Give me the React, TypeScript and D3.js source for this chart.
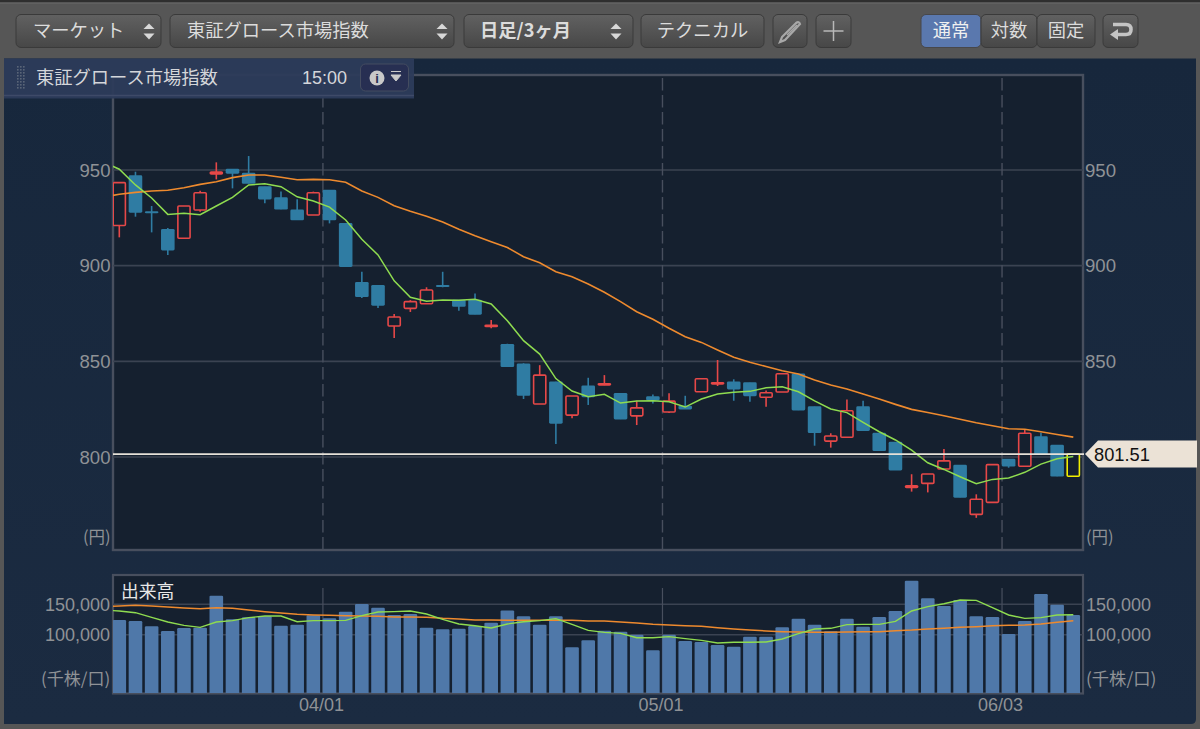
import React from "react";
import * as d3 from "d3";

// 東証グロース市場指数, daily candles
const opens = [921, 947, 928.2, 919, 914.3, 929.1, 948, 950.4, 948.3, 941.3, 935.5, 929.1, 926.5, 939.5, 922.1, 891.3, 889.7, 868.5, 877.7, 880.1, 889.7, 882, 882, 868.2, 858.9, 848.7, 827.7, 839.3, 821.9, 837.2, 837.7, 833.3, 821.5, 831.5, 823.5, 826.6, 834.1, 838.2, 839.3, 838.8, 831.2, 834, 843.4, 826.3, 808.3, 810.3, 826.3, 812.4, 807.7, 784.1, 786.2, 793.7, 795.8, 770, 776.3, 798.9, 795.2, 810.6, 806.2, 789.9];
const closes = [943.4, 927.9, 927.6, 908.2, 931.2, 938.1, 948.9, 948.3, 943, 934.8, 929.5, 923.9, 938.1, 923.9, 899.5, 883.8, 879.3, 873.2, 881.2, 887.3, 889, 878.7, 874.6, 868.8, 847.2, 832.2, 842.8, 817.6, 831.9, 831.5, 838.3, 819.8, 825.7, 829.8, 829.2, 825.1, 840.9, 838.8, 835.5, 832, 833.6, 843.5, 824.5, 812.7, 811, 824.2, 813.8, 803.3, 793.2, 785, 791.1, 798, 778.9, 777.9, 796, 795.2, 812.4, 801.5, 790, 801.51];
const highs = [943.4, 949.1, 931.2, 919.7, 931.2, 939.2, 954, 950.4, 957.3, 941.3, 938.7, 934.7, 938.7, 939.5, 922.1, 896.8, 889.7, 874.7, 882, 888.7, 896.8, 882, 885.5, 871.6, 859.2, 849, 848, 839.3, 831.9, 841.4, 842.8, 833.3, 829.4, 832.7, 833.3, 832, 841.3, 850.7, 840.6, 838.8, 834.7, 843.9, 843.4, 826.3, 812.4, 830.1, 829.4, 812.4, 807.7, 791, 791.1, 804.2, 795.8, 780.5, 796, 798.9, 814.1, 812.7, 806.2, 801.51];
const lows = [914.8, 925.6, 917.4, 905.6, 914.3, 928.2, 945.1, 940.4, 943, 932.6, 929.5, 923.9, 926.5, 922.1, 899.5, 883.1, 877.9, 862.2, 875.8, 880.1, 888.7, 876.5, 874.6, 867.3, 847.2, 830.3, 827.7, 806.8, 820.2, 827.2, 837.5, 819.8, 816.7, 828, 823, 825.1, 834.1, 837.1, 829.4, 828.9, 826.3, 834, 824.5, 805.9, 804.9, 810.3, 813.8, 803.3, 793.2, 781.9, 781.5, 793.7, 778.9, 768.2, 776.3, 794.4, 795.2, 801.5, 790, 789.9];

// moving averages, first value is the day before the visible window
const priceMaShort = [954.2, 950.4, 942.2, 935.4, 926.8, 927.4, 926.6, 931.2, 935.7, 942.2, 942.8, 941.3, 936, 933.8, 930.6, 923.9, 913.8, 905.6, 892.1, 883.5, 881.4, 882, 881.9, 882.4, 880, 871.2, 860.8, 853.8, 841, 834.5, 831.5, 832.8, 828.2, 829.3, 829.4, 828.9, 826.1, 830.3, 832.9, 833.9, 834.3, 836.2, 836.7, 834.1, 829.3, 825.1, 823.2, 818.1, 813.2, 808.9, 803.6, 797, 793.5, 789.7, 786, 788.3, 789, 792, 796.3, 799.1, 800.3];
const priceMaLong = [935.9, 937.3, 938.3, 939, 939.4, 940.7, 942.5, 943.9, 946, 947.4, 947.4, 946.2, 944.9, 945.1, 944.9, 943.6, 939, 935.7, 931.3, 928.4, 925.8, 922.8, 919, 915.6, 912.5, 909.5, 904.7, 901.5, 896.8, 894.2, 890.4, 886.1, 881.2, 875.9, 872, 867.3, 862.9, 859.9, 855.9, 852.1, 849.5, 847.3, 845.1, 843.4, 840.2, 837.6, 835.5, 832.9, 830.3, 827.5, 824.9, 823.3, 821.6, 819.7, 817.9, 816.3, 814.8, 814.5, 813.2, 811.8, 810.4];

const volumes = [124200, 122500, 113800, 106100, 111000, 111600, 164200, 125300, 128500, 130700, 114800, 116500, 131800, 126900, 137900, 150500, 144500, 132400, 134000, 111600, 108800, 109900, 114300, 119800, 140000, 130200, 116500, 130200, 79200, 90700, 106600, 105000, 100000, 74300, 100000, 89600, 88000, 83000, 80300, 96800, 96800, 112100, 126400, 116500, 105500, 126400, 113200, 129100, 139000, 188900, 159800, 147200, 157100, 130200, 129100, 101100, 122500, 166900, 149400, 132400];
const volumeMaShort = [140600, 139000, 136200, 128600, 120900, 115400, 112100, 120900, 123100, 128000, 130700, 130700, 121400, 123100, 123100, 123600, 131300, 137300, 137900, 139000, 134000, 125300, 117600, 114800, 111000, 117600, 121400, 123100, 126400, 117000, 107200, 103900, 102200, 95100, 95100, 96800, 93500, 90700, 86300, 87500, 87500, 88000, 92900, 101700, 109400, 110500, 116500, 117000, 117000, 122000, 139000, 146100, 151000, 157100, 156500, 144500, 132400, 126900, 128000, 132400, 132900];
const volumeMaLong = [146100, 147200, 148300, 147200, 145500, 143900, 142800, 144500, 143400, 140600, 137900, 135700, 133500, 132400, 131800, 131300, 130700, 130200, 129100, 129100, 128600, 126900, 125800, 124200, 124200, 123600, 123600, 123600, 123600, 123600, 122500, 122500, 120900, 119200, 117000, 115900, 114800, 113800, 111600, 109400, 107700, 106100, 105000, 104400, 103900, 103900, 104400, 105000, 105000, 106600, 107700, 109400, 110500, 112100, 113200, 114800, 115400, 115900, 117600, 120300, 123100];

const priceTicks = [950, 900, 850, 800];
const rightPriceTicks = [950, 900, 850]; // 800 sits behind the last price tag
const volumeTicks = [150000, 100000];
const dateLabels = ["04/01", "05/01", "06/03"];
const dateIndexes = [13, 34, 55];
const lastPrice = 801.51;

const W = 1200;
const H = 729;
const FONT = "'Liberation Sans', Arial, sans-serif";
const JP = "'Noto Sans CJK JP', sans-serif";
const TICK = "#8f9296";
const GRID = "#3b4352";
const FRAME = "#484f5e";
const RED = "#e64848";
const BLUE = "#2f7ca3";
const GREEN = "#8fdc50";
const ORANGE = "#ee8a2e";

const x = d3.scaleLinear().domain([0, 59]).range([119.3, 1073.3]);
const yPrice = d3.scaleLinear().domain([800, 950]).range([457, 170]);
const yVol = d3.scaleLinear().domain([0, 150000]).range([695.5, 604.3]);

// the MA arrays carry one lead-in point, so i - 1 is the candle index
const priceLine = d3
  .line<number>()
  .x((_, i) => x(i - 1))
  .y((d) => yPrice(d));
const volLine = d3
  .line<number>()
  .x((_, i) => x(i - 1))
  .y((d) => yVol(d));

const Updown = ({ cx }: { cx: number }) => (
  <g fill="#d8d8d8">
    <path d={`M${cx - 5.5},29 L${cx + 5.5},29 L${cx},23.5 Z`} />
    <path d={`M${cx - 5.5},33.5 L${cx + 5.5},33.5 L${cx},39.5 Z`} />
  </g>
);

const Btn = ({ x0, x1, fill = "url(#btn)" }: { x0: number; x1: number; fill?: string }) => (
  <rect x={x0} y={14.5} width={x1 - x0} height={33} rx={5} fill={fill} stroke="#3a3a3a" />
);

const ToolText = (props: { x: number; children: string; fill?: string; weight?: number; anchor?: string }) => (
  <text
    x={props.x}
    y={37}
    fontFamily={JP}
    fontSize={18.3}
    fill={props.fill ?? "#dcdcdc"}
    fontWeight={props.weight ?? 400}
    textAnchor={props.anchor ?? "start"}
  >
    {props.children}
  </text>
);

export default function App() {
  const gripDots = d3.range(0, 3).flatMap((c) => d3.range(0, 8).map((r) => [17 + c * 3, 66 + r * 3]));

  return (
    <svg width={W} height={H} style={{ position: "absolute", left: 0, top: 0, display: "block" }}>
      <defs>
        <linearGradient id="btn" x1="0" y1="0" x2="0" y2="1">
          <stop offset="0" stopColor="#616161" />
          <stop offset="1" stopColor="#474747" />
        </linearGradient>
        <linearGradient id="panelBg" x1="0" y1="0" x2="0" y2="1">
          <stop offset="0" stopColor="#17273c" />
          <stop offset="1" stopColor="#1b2b41" />
        </linearGradient>
        <clipPath id="mainClip">
          <rect x={113} y={75} width={970} height={475} />
        </clipPath>
        <clipPath id="volClip">
          <rect x={113} y={575} width={970} height={118} />
        </clipPath>
      </defs>

      {/* toolbar */}
      <rect width={W} height={H} fill="#565656" />
      <rect width={W} height={2.5} fill="#2e2e2e" />
      <rect x={0} y={2.5} width={W} height={1} fill="#6a6a6a" />
      <Btn x0={16} x1={161} />
      <ToolText x={33}>マーケット</ToolText>
      <Updown cx={149} />
      <Btn x0={170} x1={454} />
      <ToolText x={187}>東証グロース市場指数</ToolText>
      <Updown cx={442} />
      <Btn x0={464} x1={633} />
      <ToolText x={480} weight={700}>日足/3ヶ月</ToolText>
      <Updown cx={616} />
      <Btn x0={641} x1={764} />
      <ToolText x={702.5} anchor="middle">テクニカル</ToolText>
      <Btn x0={773} x1={807} />
      <g fill="none" stroke="#a8a8a8" strokeWidth={2.2}>
        <path d="M782,37 L796,23 Q799,21 800,24 L785,40 L780,42 Z" />
        <path d="M787,35 L797,25" strokeWidth={1.4} />
      </g>
      <Btn x0={816} x1={851} />
      <path d="M833.5,21 V41 M823.5,31 H843.5" stroke="#b8b8b8" strokeWidth={1.5} />
      <rect x={921} y={14.5} width={60} height={33} rx={5} fill="#5a78ae" stroke="#47474a" />
      <Btn x0={981} x1={1037} />
      <Btn x0={1037} x1={1095} />
      <ToolText x={951} anchor="middle" fill="#f0f0f0">通常</ToolText>
      <ToolText x={1009} anchor="middle">対数</ToolText>
      <ToolText x={1066} anchor="middle">固定</ToolText>
      <Btn x0={1103} x1={1138} />
      <path
        d="M1113,24.5 H1126 Q1131,24.5 1131,29.5 Q1131,34.5 1126,34.5 H1114"
        fill="none"
        stroke="#c4c4c4"
        strokeWidth={3.6}
      />
      <path d="M1118,29 L1110,34.5 L1118,40 Z" fill="#c4c4c4" />

      {/* panel */}
      <path d={`M4,58.5 H1196 V719 Q1196,724 1191,724 H4 Z`} fill="url(#panelBg)" />

      {/* price plot */}
      <rect x={113} y={75} width={970} height={475} fill="#15202f" stroke={FRAME} strokeWidth={2.4} />
      {priceTicks.map((t) => (
        <g key={t}>
          <line x1={113} x2={1083} y1={yPrice(t)} y2={yPrice(t)} stroke={GRID} strokeWidth={1.6} />
          <text x={110.5} y={yPrice(t) + 6.5} textAnchor="end" fontFamily={FONT} fontSize={18.6} fill={TICK}>{t}</text>
        </g>
      ))}
      {rightPriceTicks.map((t) => (
        <text key={t} x={1085} y={yPrice(t) + 6.5} fontFamily={FONT} fontSize={18.6} fill={TICK}>{t}</text>
      ))}
      {dateIndexes.map((d) => (
        <line key={d} x1={x(d - 0.5) + 1.5} x2={x(d - 0.5) + 1.5} y1={78} y2={550} stroke={FRAME} strokeWidth={1.4} strokeDasharray="12.5 4.5" />
      ))}
      <text x={83} y={543} fontFamily={JP} fontSize={16.5} fill={TICK}>(円)</text>
      <text x={1086} y={543} fontFamily={JP} fontSize={16.5} fill={TICK}>(円)</text>

      <g clipPath="url(#mainClip)">
        {opens.map((o, i) => {
          const c = closes[i];
          const up = c >= o;
          const last = i === opens.length - 1;
          const color = last ? "#f2ef00" : up ? RED : BLUE;
          const top = yPrice(Math.max(o, c));
          const bottom = yPrice(Math.min(o, c));
          const cx = x(i);
          return (
            <g key={i}>
              <line x1={cx} x2={cx} y1={yPrice(highs[i])} y2={yPrice(lows[i])} stroke={color} strokeWidth={1.6} />
              {up ? (
                <rect x={cx - 6.1} y={top} width={12.2} height={Math.max(bottom - top, 1)} rx={1} fill="#15202f" stroke={color} strokeWidth={1.6} />
              ) : (
                <rect x={cx - 6.8} y={top - 0.4} width={13.6} height={Math.max(bottom - top + 0.8, 2)} rx={1.4} fill={color} />
              )}
            </g>
          );
        })}
        <path d={priceLine(priceMaLong) ?? ""} fill="none" stroke={ORANGE} strokeWidth={1.6} />
        <path d={priceLine(priceMaShort) ?? ""} fill="none" stroke={GREEN} strokeWidth={1.5} />
      </g>
      <line x1={113} x2={1084} y1={yPrice(lastPrice)} y2={yPrice(lastPrice)} stroke="#e6e1d8" strokeWidth={1.8} />

      {/* last price tag */}
      <path d={`M1085,${yPrice(lastPrice)} L1098,440.5 H1197 V467.5 H1098 Z`} fill="#ebe2d6" />
      <text x={1094} y={yPrice(lastPrice) + 6.5} fontFamily={FONT} fontSize={18.3} fill="#111">
        {d3.format(".2f")(lastPrice)}
      </text>

      {/* info tab */}
      <rect x={4} y={58.5} width={410} height={40} fill="#2d3b5a" opacity={0.96} />
      <line x1={4} x2={414} y1={95.5} y2={95.5} stroke="#3e4a68" strokeWidth={1.5} />
      {gripDots.map(([dx, dy], i) => (
        <rect key={i} x={dx} y={dy} width={1.6} height={1.6} fill="#5a6578" />
      ))}
      <text x={36} y={84} fontFamily={JP} fontSize={18.3} fill="#d4d6da">東証グロース市場指数</text>
      <text x={302} y={84} fontFamily={FONT} fontSize={18} fill="#d4d6da">15:00</text>
      <rect x={360.5} y={64} width={48} height={27} rx={5} fill="#272f52" stroke="#444c60" />
      <circle cx={377} cy={78} r={7.5} fill="#c8c8c8" />
      <text x={377} y={83} textAnchor="middle" fontFamily={FONT} fontSize={13} fontWeight={700} fill="#272f52">i</text>
      <path d="M391,75 H401 L396,81 Z M391,71.5 H401" fill="#c8c8c8" stroke="#c8c8c8" strokeWidth={1} />

      {/* volume plot */}
      <rect x={113} y={575} width={970} height={118.5} fill="#15202f" stroke={FRAME} strokeWidth={2.2} />
      {volumeTicks.map((t) => (
        <g key={t}>
          <line x1={113} x2={1083} y1={yVol(t)} y2={yVol(t)} stroke={GRID} strokeWidth={1.4} />
          <text x={110} y={yVol(t) + 6.5} textAnchor="end" fontFamily={FONT} fontSize={18} fill={TICK}>{d3.format(",")(t)}</text>
          <text x={1086} y={yVol(t) + 6.5} fontFamily={FONT} fontSize={18} fill={TICK}>{d3.format(",")(t)}</text>
        </g>
      ))}
      {dateIndexes.map((d, i) => (
        <g key={d}>
          <line x1={x(d - 0.5) + 1.5} x2={x(d - 0.5) + 1.5} y1={588} y2={693} stroke={FRAME} strokeWidth={1.2} />
          <text x={x(d - 0.5)} y={711} textAnchor="middle" fontFamily={FONT} fontSize={18} fill={TICK}>{dateLabels[i]}</text>
        </g>
      ))}
      <g clipPath="url(#volClip)">
        {volumes.map((v, i) => (
          <rect key={i} x={x(i) - 6.8} y={yVol(v)} width={13.6} height={700 - yVol(v)} rx={1.2} fill="#4f78a9" />
        ))}
        <path d={volLine(volumeMaLong) ?? ""} fill="none" stroke={ORANGE} strokeWidth={1.5} />
        <path d={volLine(volumeMaShort) ?? ""} fill="none" stroke={GREEN} strokeWidth={1.4} />
      </g>
      <text x={121} y={598} fontFamily={JP} fontSize={17.8} fill="#e8e8e8">出来高</text>
      <text x={41} y={685} fontFamily={JP} fontSize={17} fill={TICK}>(千株/口)</text>
      <text x={1086} y={685} fontFamily={JP} fontSize={17.3} fill={TICK}>(千株/口)</text>
    </svg>
  );
}
